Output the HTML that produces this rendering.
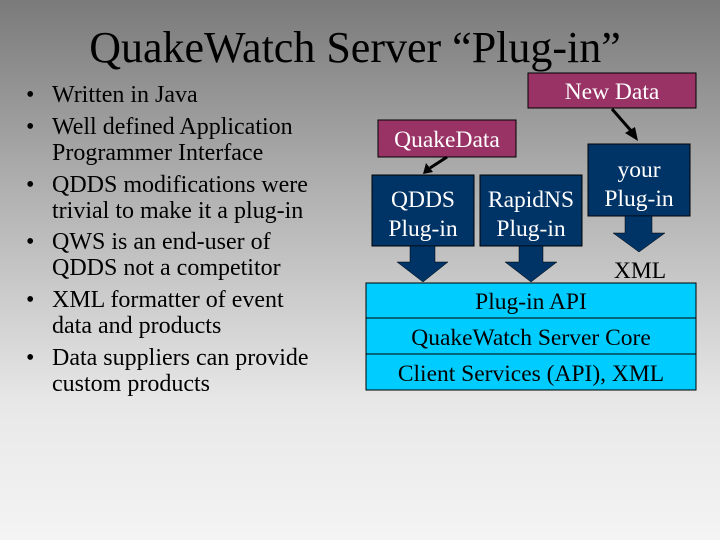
<!DOCTYPE html>
<html><head><meta charset="utf-8"><style>
html,body{margin:0;padding:0;}
body{width:720px;height:540px;overflow:hidden;background:linear-gradient(#7a7a7a 0%,#b0b0b0 35%,#e8e8e8 75%,#f4f4f4 100%);}
svg{display:block;font-family:"Liberation Serif",serif;}
</style></head><body>
<svg width="720" height="540" viewBox="0 0 720 540" font-family="Liberation Serif, serif">
<text x="355" y="62" font-size="44" text-anchor="middle" fill="#000">QuakeWatch Server “Plug-in”</text>
<g font-size="24" fill="#000">
<text x="26" y="102">•</text><text x="52" y="102">Written in Java</text>
<text x="26" y="134">•</text><text x="52" y="134">Well defined Application</text>
<text x="52" y="160">Programmer Interface</text>
<text x="26" y="192">•</text><text x="52" y="192">QDDS modifications were</text>
<text x="52" y="218">trivial to make it a plug-in</text>
<text x="26" y="249">•</text><text x="52" y="249">QWS is an end-user of</text>
<text x="52" y="275">QDDS not a competitor</text>
<text x="26" y="307">•</text><text x="52" y="307">XML formatter of event</text>
<text x="52" y="333">data and products</text>
<text x="26" y="365">•</text><text x="52" y="365">Data suppliers can provide</text>
<text x="52" y="391">custom products</text>
</g>
<rect x="528" y="73" width="168" height="35" fill="#993366" stroke="#000" stroke-width="1"/>
<text x="612" y="99" font-size="23.5" fill="#fff" text-anchor="middle">New Data</text>
<rect x="378" y="120" width="138" height="37" fill="#993366" stroke="#000" stroke-width="1"/>
<text x="447" y="147" font-size="23.5" fill="#fff" text-anchor="middle">QuakeData</text>
<line x1="612" y1="109" x2="633" y2="133" stroke="#000" stroke-width="3"/>
<polygon points="638,141 625,133 635,127" fill="#000"/>
<line x1="447" y1="157" x2="430" y2="168" stroke="#000" stroke-width="3"/>
<polygon points="423,174 426,163 433,172" fill="#000"/>
<rect x="372" y="175" width="102" height="71" fill="#003366" stroke="#000"/>
<text x="423" y="207" font-size="23.5" fill="#fff" text-anchor="middle">QDDS</text>
<text x="423" y="236" font-size="23.5" fill="#fff" text-anchor="middle">Plug-in</text>
<rect x="480" y="175" width="102" height="71" fill="#003366" stroke="#000"/>
<text x="531" y="207" font-size="23.5" fill="#fff" text-anchor="middle">RapidNS</text>
<text x="531" y="236" font-size="23.5" fill="#fff" text-anchor="middle">Plug-in</text>
<rect x="588" y="144" width="102" height="72" fill="#003366" stroke="#000"/>
<text x="639" y="177" font-size="23.5" fill="#fff" text-anchor="middle">your</text>
<text x="639" y="206" font-size="23.5" fill="#fff" text-anchor="middle">Plug-in</text>
<polygon points="410,246 435,246 435,262 448,262 423,282 397,262 410,262" fill="#003366" stroke="#000" stroke-width="0.5"/>
<polygon points="519,246 543,246 543,262 557,262 531,282 505,262 519,262" fill="#003366" stroke="#000" stroke-width="0.5"/>
<polygon points="625,216 652,216 652,233 665,233 639,252 613,233 625,233" fill="#003366" stroke="#000" stroke-width="0.5"/>
<text x="640" y="278" font-size="23.5" fill="#000" text-anchor="middle">XML</text>
<rect x="366" y="283" width="330" height="107" fill="#00ccff" stroke="#000"/>
<line x1="366" y1="318" x2="696" y2="318" stroke="#000"/>
<line x1="366" y1="354" x2="696" y2="354" stroke="#000"/>
<text x="531" y="309" font-size="23.5" fill="#000" text-anchor="middle">Plug-in API</text>
<text x="531" y="345" font-size="23.5" fill="#000" text-anchor="middle">QuakeWatch Server Core</text>
<text x="531" y="381" font-size="23.5" fill="#000" text-anchor="middle">Client Services (API), XML</text>
</svg>
</body></html>
